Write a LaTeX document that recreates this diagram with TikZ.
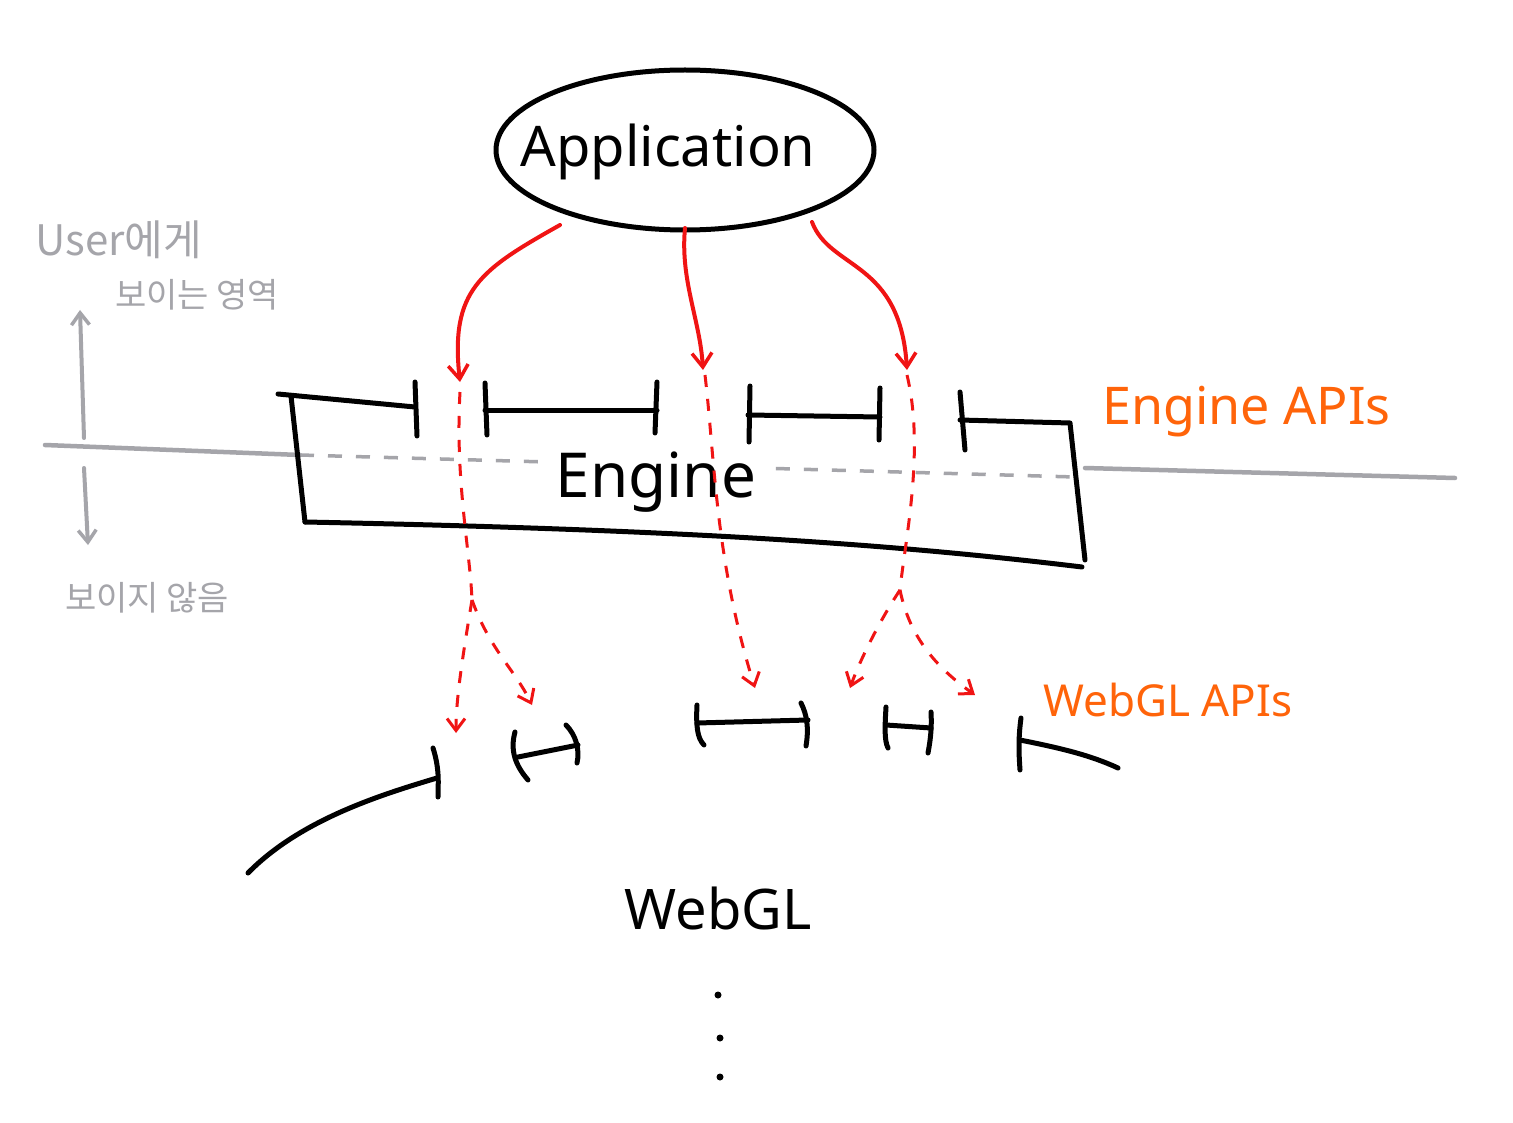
\documentclass[tikz,border=0pt]{standalone}
\usepackage{fontspec}
\setmainfont{Noto Sans}
\newfontfamily\krfont{Noto Sans CJK KR}
\usetikzlibrary{arrows.meta,shapes.geometric}
\definecolor{appred}{RGB}{240,20,20}
\definecolor{apiorange}{RGB}{255,100,10}
\definecolor{zonegray}{RGB}{165,165,170}
\tikzset{
  ink/.style={line width=5pt, black, line cap=round, line join=round},
  redarrow/.style={line width=4pt, appred, line cap=round, -{Straight Barb[length=14pt,width=20pt,line width=3.5pt]}},
  reddash/.style={line width=3pt, appred, dash pattern=on 12pt off 12pt, -{Straight Barb[length=12pt,width=18pt,line width=3pt]}},
  reddashplain/.style={line width=3pt, appred, dash pattern=on 12pt off 12pt},
  grayline/.style={line width=4.5pt, zonegray, line cap=round},
  grayarrow/.style={line width=4pt, zonegray, line cap=round, -{Straight Barb[length=12pt,width=18pt,line width=3.5pt]}},
  graytext/.style={text=zonegray, font=\krfont\fontsize{34}{40}\selectfont, inner sep=0pt},
  apitext/.style={text=apiorange, inner sep=0pt},
  bigtext/.style={text=black, inner sep=0pt},
}
\begin{document}
\begin{tikzpicture}[x=1pt,y=-1pt]
\useasboundingbox (0,0) rectangle (1513,1123);
\fill[white] (0,0) rectangle (1513,1123);

% Application ellipse
\node[ellipse, draw, line width=5pt, minimum width=378pt, minimum height=160pt] (app) at (685,150) {};
\node[bigtext, font=\fontsize{56}{64}\selectfont] (apptext) at (668,152) {Application};

% gray zone line
\coordinate (gl0) at (45,445);
\coordinate (gl1) at (300,455);
\coordinate (gl2) at (1075,477);
\coordinate (gl3) at (1085,468);
\coordinate (gl4) at (1455,478);
\draw[grayline] (gl0) -- (gl1);
\draw[line width=3.5pt, zonegray, dash pattern=on 14pt off 14pt] (gl1) -- (gl2);
\draw[grayline] (gl3) -- (gl4);

% gray arrows and texts
\coordinate (ua0) at (84,438);
\coordinate (ua1) at (80,310);
\coordinate (da0) at (84,468);
\coordinate (da1) at (88,545);
\draw[grayarrow] (ua0) -- (ua1);
\draw[grayarrow] (da0) -- (da1);
\node[graytext, anchor=west, font=\krfont\fontsize{42}{48}\selectfont] (user) at (35,240) {User에게};
\node[graytext, anchor=west] (visible) at (115,295) {보이는 영역};
\node[graytext, anchor=west] (invisible) at (65,598) {보이지 않음};

% Engine box with API gaps
\coordinate (e0) at (278,394);
\coordinate (e1) at (415,407);
\coordinate (e2) at (485,410);
\coordinate (e3) at (657,410);
\coordinate (e4) at (748,415);
\coordinate (e5) at (880,417);
\coordinate (e6) at (960,420);
\coordinate (e7) at (1070,423);
\coordinate (eb0) at (305,522);
\coordinate (eb1) at (1082,567);
\coordinate (eb2) at (1085,560);
\draw[ink] (e0) -- (e1);
\draw[ink] (415,382) -- (417,436);
\draw[ink] (e2) -- (e3);
\draw[ink] (485,383) -- (487,435);
\draw[ink] (657,382) -- (655,433);
\draw[ink] (e4) -- (e5);
\draw[ink] (750,386) -- (749,442);
\draw[ink] (880,388) -- (879,440);
\draw[ink] (e6) -- (e7) -- (eb2);
\draw[ink] (960,392) -- (965,450);
\draw[ink] (291,396) -- (305,522);
\draw[ink] (eb0) .. controls (700,530) and (900,545) .. (eb1);
\node[bigtext, fill=white, inner xsep=10pt, inner ysep=2pt, font=\fontsize{62}{70}\selectfont] (engine) at (656,482) {Engine};

\node[apitext, font=\fontsize{52}{60}\selectfont, anchor=west] (engapi) at (1102,412) {Engine APIs};
\node[apitext, font=\fontsize{44}{52}\selectfont, anchor=west] (webglapi) at (1043,700) {WebGL APIs};

% red solid arrows from application
\coordinate (r1a) at (560,225);
\coordinate (r1b) at (460,382);
\coordinate (r2a) at (685,228);
\coordinate (r2b) at (703,370);
\coordinate (r3a) at (812,222);
\coordinate (r3b) at (907,370);
\draw[redarrow] (r1a) .. controls (480,270) and (450,290) .. (r1b);
\draw[redarrow] (r2a) .. controls (680,280) and (700,320) .. (r2b);
\draw[redarrow] (r3a) .. controls (830,270) and (900,260) .. (r3b);

% red dashed continuations
\coordinate (d1s) at (460,392);
\coordinate (d1m) at (472,600);
\coordinate (d1a) at (456,733);
\coordinate (d1b) at (532,705);
\draw[reddashplain] (d1s) .. controls (455,480) and (470,550) .. (d1m);
\draw[reddash] (d1m) .. controls (462,660) and (456,700) .. (d1a);
\draw[reddash] (d1m) .. controls (490,650) and (515,670) .. (d1b);
\coordinate (d2s) at (705,375);
\coordinate (d2a) at (755,688);
\draw[reddash] (d2s) .. controls (715,460) and (715,560) .. (d2a);
\coordinate (d3s) at (907,375);
\coordinate (d3m) at (900,590);
\coordinate (d3a) at (850,688);
\coordinate (d3b) at (975,695);
\draw[reddashplain] (d3s) .. controls (925,450) and (905,540) .. (d3m);
\draw[reddash] (d3m) .. controls (880,620) and (860,660) .. (d3a);
\draw[reddash] (d3m) .. controls (910,640) and (940,670) .. (d3b);

% WebGL APIs brackets
\coordinate (w0) at (248,873);
\coordinate (w1) at (437,778);
\draw[ink] (w0) .. controls (300,820) and (380,795) .. (w1);
\draw[ink] (433,748) .. controls (440,770) and (438,785) .. (438,797);
\coordinate (w2) at (518,757);
\coordinate (w3) at (578,745);
\draw[ink] (w2) -- (w3);
\draw[ink] (515,732) .. controls (510,750) and (515,765) .. (528,780);
\draw[ink] (566,725) .. controls (576,735) and (580,750) .. (577,763);
\coordinate (w4) at (697,723);
\coordinate (w5) at (808,720);
\draw[ink] (w4) -- (w5);
\draw[ink] (697,705) .. controls (696,725) and (697,738) .. (704,745);
\draw[ink] (801,703) .. controls (807,715) and (809,728) .. (806,746);
\coordinate (w6) at (886,725);
\coordinate (w7) at (931,728);
\draw[ink] (w6) -- (w7);
\draw[ink] (886,707) .. controls (885,725) and (884,740) .. (888,748);
\draw[ink] (931,712) .. controls (932,730) and (930,742) .. (928,753);
\coordinate (w8) at (1020,740);
\coordinate (w9) at (1118,768);
\draw[ink] (w8) .. controls (1060,748) and (1090,755) .. (w9);
\draw[ink] (1021,718) .. controls (1018,740) and (1019,755) .. (1020,770);

\node[bigtext, font=\fontsize{56}{64}\selectfont] (webgl) at (718,908) {WebGL};

% dots
\fill (718,995) circle (3.5pt);
\fill (720,1038) circle (3.5pt);
\fill (720,1077) circle (3.5pt);
\end{tikzpicture}
\end{document}
